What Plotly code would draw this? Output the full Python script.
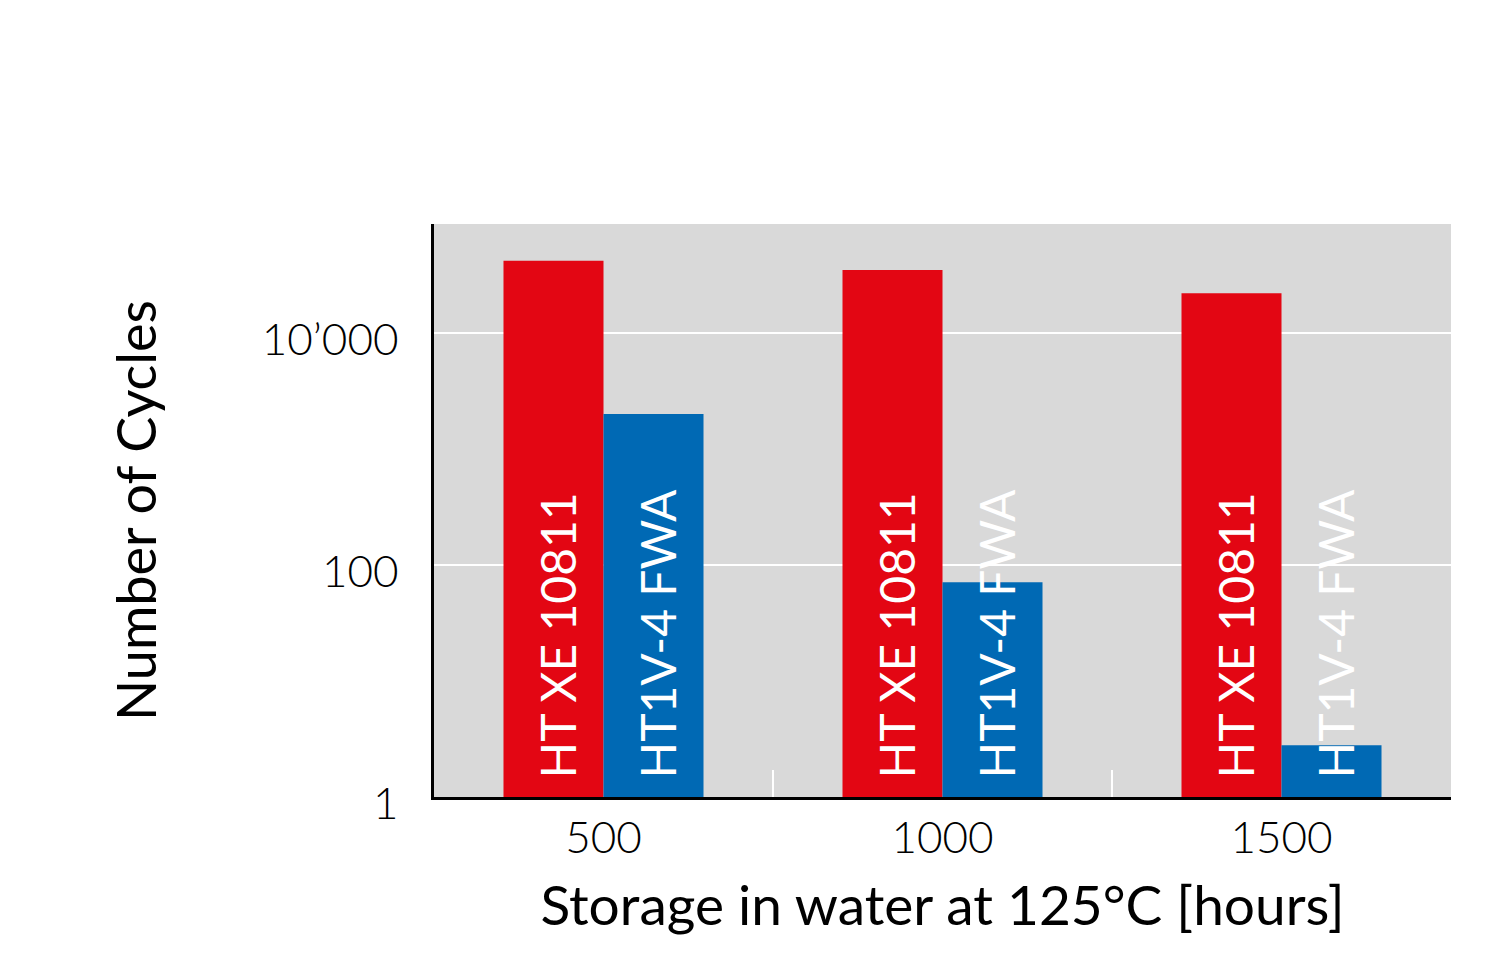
import plotly.graph_objects as go

categories = ["500", "1000", "1500"]
ht_xe = [42000, 35000, 22000]
ht1v = [2000, 71, 2.8]
series_names = ["HT XE 10811", "HT1V-4 FWA"]
y_tickvals = [1, 100, 10000]
y_ticktext = ["1", "100", "10\u2019000"]

RED = "#E30613"
BLUE = "#0069B4"
FONT = "Lato"

fig = go.Figure()
fig.add_trace(go.Bar(x=categories, y=ht_xe, name=series_names[0], marker=dict(color=RED, line=dict(width=0))))
fig.add_trace(go.Bar(x=categories, y=ht1v, name=series_names[1], marker=dict(color=BLUE, line=dict(width=0))))

for i, c in enumerate(categories):
    for name, shift in zip(series_names, [-50, 50]):
        fig.add_annotation(x=i, y=0, xref="x", yref="y", text=name, textangle=-90,
                           xanchor="center", yanchor="bottom", xshift=shift + 3, yshift=16,
                           showarrow=False, font=dict(family=FONT, size=48, color="white"))

fig.update_layout(
    width=1500, height=964,
    margin=dict(l=426, r=57, t=216, b=175, autoexpand=False),
    paper_bgcolor="white", plot_bgcolor="#D9D9D9",
    barmode="group", bargap=0.41, bargroupgap=0,
    showlegend=False,
    font=dict(family=FONT, color="black"),
)
fig.update_xaxes(
    type="category", range=[-0.5, 2.5], showline=True, linecolor="black", linewidth=2.5,
    tickson="boundaries", ticks="inside", ticklen=27, tickwidth=2, tickcolor="white",
    tickangle=0, automargin=False,
    tickfont=dict(family=FONT, size=44, weight=300), showgrid=False,
    title=dict(text="Storage in water at 125\u00b0C [hours]", font=dict(family=FONT, size=55), standoff=26),
)
fig.update_yaxes(
    type="log", range=[0, 4.94], tickvals=y_tickvals, ticktext=y_ticktext,
    showline=True, linecolor="black", linewidth=2.5, ticks="", automargin=False,
    ticklabelstandoff=24, ticklabelshift=7,
    showgrid=True, gridcolor="white", gridwidth=2, zeroline=False,
    tickfont=dict(family=FONT, size=44, weight=300),
    title=dict(text="Number of Cycles", font=dict(family=FONT, size=54), standoff=88),
)

fig.write_html("out.html")
